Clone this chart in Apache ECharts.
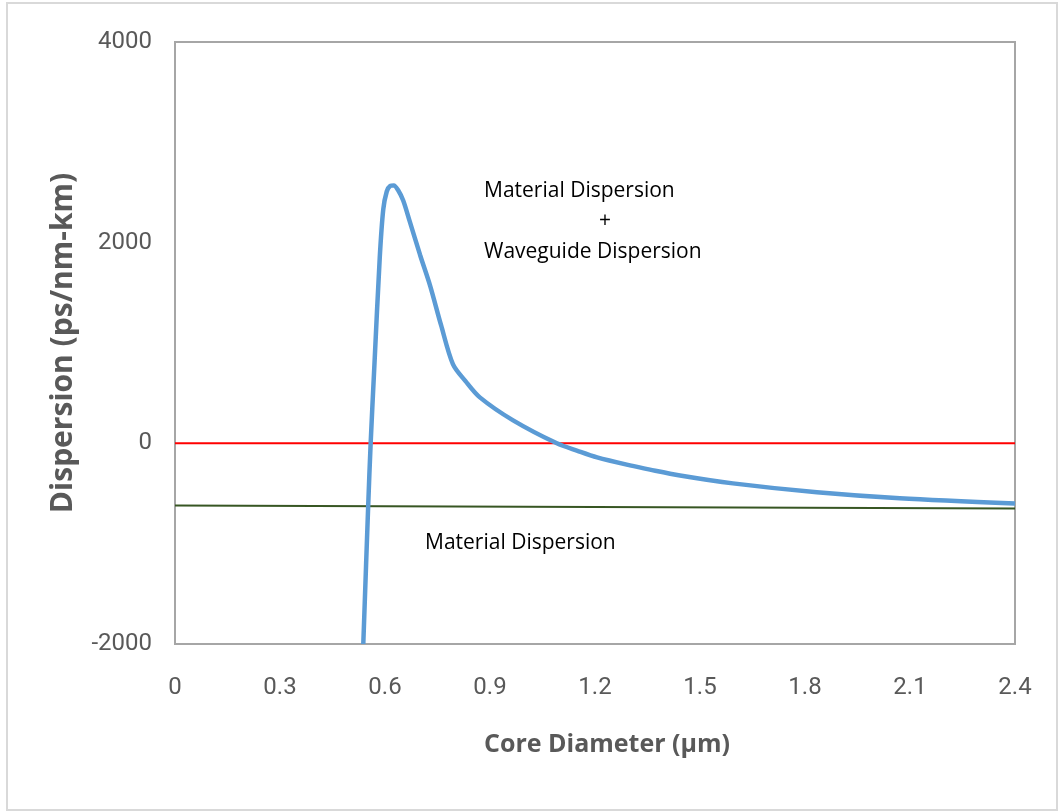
<!DOCTYPE html>
<html>
<head>
<meta charset="utf-8">
<script src="https://cdn.jsdelivr.net/npm/echarts@6/dist/echarts.min.js"></script>
<style>
  html, body { margin: 0; padding: 0; background: #fff; }
  #chart { width: 1060px; height: 812px; }
</style>
</head>
<body>
<div id="chart"></div>
<script>
// core diameter (um) vs total dispersion
const coreDiameter = [0.538, 0.552, 0.559, 0.570, 0.585, 0.595, 0.605, 0.615, 0.625, 0.638, 0.652, 0.670, 0.700, 0.729, 0.760, 0.794, 0.830, 0.871, 0.966, 1.091, 1.150, 1.206, 1.300, 1.357, 1.443, 1.594, 1.834, 2.071, 2.4]
const totalDispersion = [-2000, -620, 0, 800, 1850, 2330, 2510, 2565, 2570, 2520, 2420, 2220, 1880, 1570, 1180, 790, 620, 458, 229, 0, -75, -140, -220, -262, -320, -399, -488, -548, -600]

// material dispersion line (nearly flat)
const materialX = [0, 2.4]
const materialY = [-620, -650]

// zero reference line
const zeroX = [0, 2.4]
const zeroY = [0, 0]

const xTicks = [0, 0.3, 0.6, 0.9, 1.2, 1.5, 1.8, 2.1, 2.4]

const zip = (xs, ys) => xs.map((x, i) => [x, ys[i]])

const tickFont = 'Roboto, "Open Sans", sans-serif'
const noteFont = '21px "Open Sans"'

const myChart = echarts.init(document.getElementById('chart'))
myChart.setOption({
    animation: false,
    backgroundColor: '#fff',
    grid: {
        left: 175,
        top: 42,
        right: 45,
        bottom: 168,
        show: true,
        borderColor: '#a6a6a6',
        borderWidth: 2,
        backgroundColor: 'transparent'
    },
    graphic: [
        // outer frame
        {
            type: 'rect',
            shape: { x: 7, y: 3, width: 1050, height: 807 },
            style: { fill: 'none', stroke: '#d9d9d9', lineWidth: 2 },
            silent: true
        },
        { type: 'text', left: 484, top: 181, style: { text: 'Material Dispersion', font: noteFont, fill: '#000' } },
        { type: 'text', left: 599, top: 211, style: { text: '+', font: noteFont, fill: '#000' } },
        { type: 'text', left: 484, top: 242, style: { text: 'Waveguide Dispersion', font: noteFont, fill: '#000' } },
        { type: 'text', left: 425, top: 533, style: { text: 'Material Dispersion', font: noteFont, fill: '#000' } }
    ],
    xAxis: {
        type: 'value',
        min: 0,
        max: 2.4,
        interval: 0.3,
        name: 'Core Diameter (µm)',
        nameLocation: 'middle',
        nameGap: 88,
        nameTextStyle: {
            fontFamily: '"Open Sans"',
            fontWeight: 'bold',
            fontSize: 25,
            color: '#595959',
            padding: [0, 0, 0, 24]
        },
        axisLine: { show: false },
        axisTick: { show: false },
        splitLine: { show: false },
        axisLabel: {
            margin: 32,
            fontFamily: tickFont,
            fontSize: 24,
            color: '#595959',
            formatter: v => {
                const t = xTicks.find(k => Math.abs(k - v) < 1e-6)
                return t === undefined ? '' : String(t)
            }
        }
    },
    yAxis: {
        type: 'value',
        min: -2000,
        max: 4000,
        interval: 2000,
        name: 'Dispersion (ps/nm-km)',
        nameLocation: 'middle',
        nameGap: 97,
        nameTextStyle: {
            fontFamily: '"Open Sans"',
            fontWeight: 'bold',
            fontSize: 30,
            color: '#595959'
        },
        axisLine: { show: false },
        axisTick: { show: false },
        splitLine: { show: false },
        axisLabel: {
            margin: 23,
            fontFamily: tickFont,
            fontSize: 24,
            color: '#595959',
            formatter: v => String(v)
        }
    },
    series: [
        {
            name: 'zero',
            type: 'line',
            data: zip(zeroX, zeroY),
            symbol: 'none',
            lineStyle: { color: '#ff0000', width: 2 },
            z: 2
        },
        {
            name: 'Material Dispersion',
            type: 'line',
            data: zip(materialX, materialY),
            symbol: 'none',
            lineStyle: { color: '#375623', width: 2 },
            z: 2
        },
        {
            name: 'Material + Waveguide Dispersion',
            type: 'line',
            data: zip(coreDiameter, totalDispersion),
            symbol: 'none',
            smooth: 0.3,
            lineStyle: { color: '#5b9bd5', width: 4.5 },
            z: 3
        }
    ]
})
window.addEventListener('resize', () => {
    myChart.resize()
})
</script>
</body>
</html>
